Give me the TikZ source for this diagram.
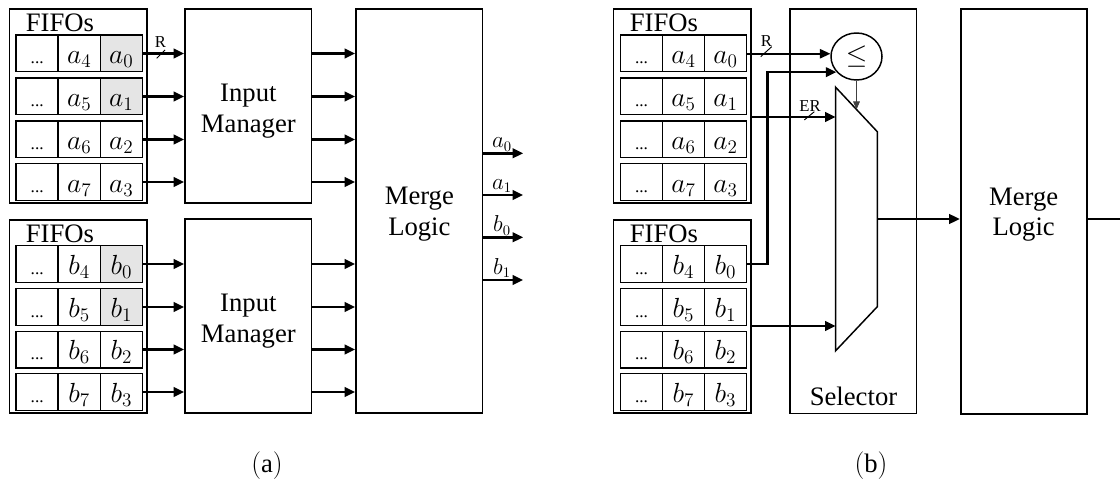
\documentclass[tikz,border=0pt]{standalone}
\usepackage{fontspec}
\setmainfont{Liberation Serif}
\usetikzlibrary{arrows.meta,shapes.geometric,calc}
\begin{document}
\begin{tikzpicture}[x=0.75pt,y=-0.75pt,
 box/.style={draw,line width=1.2pt,inner sep=0pt},
 cell/.style={draw,line width=1.1pt,minimum width=31.6pt,minimum height=27.4pt,inner sep=0pt,text height=15.5pt,text depth=0.5pt,font=\fontsize{21}{21}\selectfont},
 hl/.style={fill=gray!20},
 nohl/.style={},
 lbl/.style={font=\fontsize{20}{23}\selectfont,align=center,inner sep=0pt},
 small/.style={font=\fontsize{12.5}{13}\selectfont,inner sep=0pt},
 arr/.style={line width=2pt,-{Triangle[length=8pt,width=7pt]}},
 tharr/.style={line width=2.2pt,-{Triangle[length=8pt,width=7pt]}},
 thinarr/.style={line width=1.4pt,-{Triangle[length=8pt,width=7pt]}},
 ctrl/.style={line width=0.7pt,draw=black!75,-{Triangle[length=6pt,width=5pt]}},
 slash/.style={line width=0.7pt},
 outl/.style={font=\fontsize{16}{16}\selectfont,inner sep=0pt,anchor=base},
 panelcap/.style={font=\fontsize{20}{20}\selectfont,inner sep=0pt},
]
\useasboundingbox (0,0) rectangle (1120,481);

% ---------------- panel (a) ----------------
\node[box,minimum width=102.9pt,minimum height=145.5pt] (fa) at (78.1,106) {};
\node[box,minimum width=102.9pt,minimum height=144.75pt] (fb) at (78.1,316.5) {};
\node[lbl,anchor=base] (fal) at (60,32) {FIFOs};
\node[lbl,anchor=base] (fbl) at (60,242) {FIFOs};
\node[box,minimum width=95pt,minimum height=145.5pt] (ima) at (248.35,106) {};
\node[box,minimum width=95pt,minimum height=145.3pt] (imb) at (248.35,316) {};
\node[box,minimum width=95pt,minimum height=303pt] (ma) at (419.35,211) {};
\node[lbl] (imat) at ($(ima.center)+(0,5)$) {Input\\Manager};
\node[lbl] (imbt) at ($(imb.center)+(0,5)$) {Input\\Manager};
\node[lbl] (mat) at ($(ma.center)+(0,3)$) {Merge\\Logic};

\foreach \i/\y/\k/\f in {0/53.5/4/hl,1/96.5/5/hl,2/139.5/6/nohl,3/182/7/nohl}{
  \node[cell] (ua\i1) at (37.2,\y) {\fontsize{13}{13}\selectfont ...};
  \node[cell] (ua\i2) at (79.2,\y) {$a_{\k}$};
  \node[cell,\f] (ua\i3) at (121.3,\y) {$a_{\i}$};
  \draw[arr] (ua\i3.east) -- (ima.west |- ua\i3.east);
  \draw[arr] (ima.east |- ua\i3.east) -- (ma.west |- ua\i3.east);
}
\foreach \i/\y/\k/\f in {0/264/4/hl,1/307/5/hl,2/349.5/6/nohl,3/392/7/nohl}{
  \node[cell] (la\i1) at (37.2,\y) {\fontsize{13}{13}\selectfont ...};
  \node[cell] (la\i2) at (79.2,\y) {$b_{\k}$};
  \node[cell,\f] (la\i3) at (121.3,\y) {$b_{\i}$};
  \draw[arr] (la\i3.east) -- (imb.west |- la\i3.east);
  \draw[arr] (imb.east |- la\i3.east) -- (ma.west |- la\i3.east);
}
\draw[slash] (156.7,58.3) -- (165,50);
\node[small] (ra) at (160.5,42.5) {R};

\foreach \y/\t [count=\n] in {153.3/a_0,195/a_1,237.3/b_0,280/b_1}{
  \coordinate (o\n) at (523.3,\y);
  \draw[arr] (ma.east |- o\n) -- (o\n);
  \node[outl] (ol\n) at (502,\y-5.5) {$\t$};
}
\node[panelcap] (capa) at (267,466) {$(\mathrm{a})$};

% ---------------- panel (b) ----------------
\node[box,minimum width=102.9pt,minimum height=145.5pt] (fc) at (682.2,106) {};
\node[box,minimum width=102.9pt,minimum height=144.75pt] (fd) at (682.2,316.5) {};
\node[lbl,anchor=base] (fcl) at (664,32) {FIFOs};
\node[lbl,anchor=base] (fdl) at (664,242) {FIFOs};
\node[box,minimum width=95pt,minimum height=303.4pt] (sel) at (853.35,211.25) {};
\node[lbl,anchor=base] (sell) at (853.5,405) {Selector};
\node[box,minimum width=94.5pt,minimum height=303.75pt] (mb) at (1023.7,211.5) {};
\node[lbl] (mbt) at ($(mb.center)+(0,3)$) {Merge\\Logic};

\foreach \i/\y/\k in {0/53.5/4,1/96.5/5,2/139.5/6,3/182/7}{
  \node[cell] (ub\i1) at (641.5,\y) {\fontsize{13}{13}\selectfont ...};
  \node[cell] (ub\i2) at (683.5,\y) {$a_{\k}$};
  \node[cell] (ub\i3) at (725.5,\y) {$a_{\i}$};
}
\foreach \i/\y/\k in {0/264/4,1/307/5,2/349.5/6,3/392/7}{
  \node[cell] (lb\i1) at (641.5,\y) {\fontsize{13}{13}\selectfont ...};
  \node[cell] (lb\i2) at (683.5,\y) {$b_{\k}$};
  \node[cell] (lb\i3) at (725.5,\y) {$b_{\i}$};
}

% comparator
\node[draw,ellipse,line width=1.1pt,minimum width=38.25pt,minimum height=35.25pt,inner sep=0pt,font=\fontsize{20}{20}\selectfont] (cmp) at (856.5,56.5) {$\leq$};

% multiplexer
\coordinate (m1) at (835.7,87.3);
\coordinate (m2) at (877.3,131.7);
\coordinate (m3) at (877.3,306.7);
\coordinate (m4) at (835.7,350.7);
\draw[line width=1.1pt] (m1) -- (m2) -- (m3) -- (m4) -- cycle;
\coordinate (ms) at ($(m1)!0.5!(m2)$);
\draw[ctrl] (cmp.south) -- (cmp.south |- ms);

% inputs
\draw[thinarr] (ub03.east |- cmp.174) -- (cmp.174);
\draw[slash] (760.7,56.7) -- (771.7,46.7);
\node[small] (rb) at (766.5,41) {R};

\coordinate (jb) at (767.5,150);
\draw[arr] (lb03.east) -| (jb |- cmp.218) -- (cmp.218);

\coordinate (er) at (0,117);
\draw[tharr] (fc.east |- er) -- (m1 |- er);
\draw[slash] (804.3,120) -- (814.3,111.7);
\node[small] (erl) at (810,106) {ER};

\coordinate (eb) at (0,326);
\draw[tharr] (fd.east |- eb) -- (m1 |- eb);

% output
\coordinate (mo) at (877.3,219);
\draw[tharr] (mo) -- (mb.west |- mo);
\coordinate (edge) at (1122,219);
\draw[line width=2.2pt] (mb.east |- mo) -- (edge);

\node[panelcap] (capb) at (871,466) {$(\mathrm{b})$};
\end{tikzpicture}
\end{document}
